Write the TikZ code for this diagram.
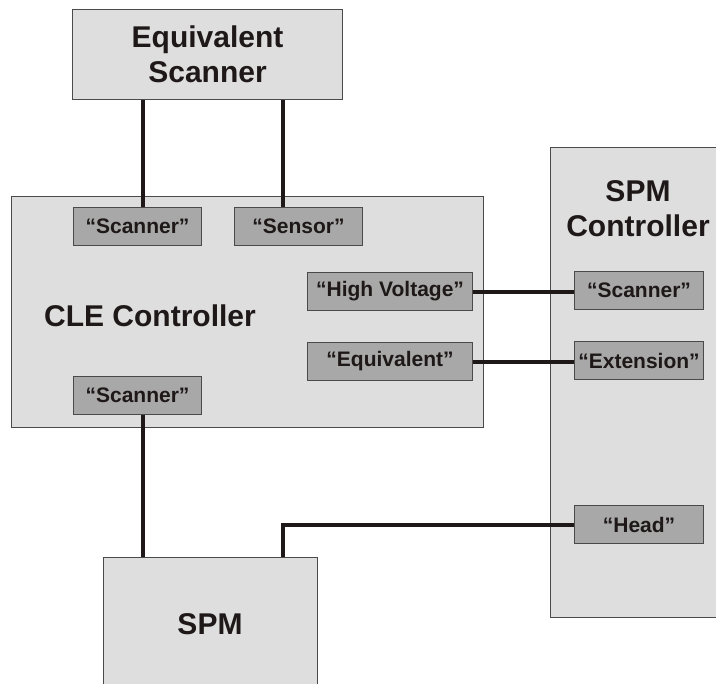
\documentclass[tikz,border=0pt]{standalone}
\usepackage{fontspec}
\setmainfont{Liberation Sans}
\definecolor{boxfill}{HTML}{DEDEDE}
\definecolor{portfill}{HTML}{A8A8A8}
\definecolor{edge}{HTML}{4A4A4A}
\definecolor{ink}{HTML}{1E1818}
\begin{document}
\begin{tikzpicture}[x=1pt,y=-1pt,
  bigbox/.style={draw=edge,line width=1.1pt,fill=boxfill,inner sep=0pt,anchor=north west,
    font=\fontsize{30}{35}\selectfont\bfseries,text=ink,align=center},
  port/.style={draw=edge,line width=1.1pt,fill=portfill,inner sep=0pt,anchor=north west,
    minimum height=38pt,font=\fontsize{21}{24}\selectfont\bfseries,text=ink},
  title/.style={font=\fontsize{30}{35}\selectfont\bfseries,text=ink,align=center,inner sep=0pt},
  wire/.style={draw=ink,line width=4pt}]
\useasboundingbox (0,0) rectangle (716,684);
\clip (0,0) rectangle (716,684);
% main boxes
\node[bigbox,minimum width=270pt,minimum height=90pt] (es) at (72,9) {Equivalent\\Scanner};
\node[bigbox,minimum width=472pt,minimum height=231pt] (cle) at (11,196) {};
\node[bigbox,minimum width=180pt,minimum height=470pt] (spmc) at (550,147) {};
\node[bigbox,minimum width=214pt,minimum height=150pt] (spm) at (103,557) {};
% titles
\node[title] (cletxt) at (150,316) {CLE Controller};
\node[title] (spmctxt) at (638,209) {SPM\\Controller};
\node[title] (spmtxt) at (210,624) {SPM};
% ports on CLE controller
\node[port,minimum width=128pt] (scA) at (73,207) {“Scanner”};
\node[port,minimum width=128pt] (sen) at (234,207) {“Sensor”};
\node[port,minimum width=165pt] (hv) at (307,272) {“High Voltage”};
\node[port,minimum width=165pt] (eq) at (307,342) {“Equivalent”};
\node[port,minimum width=128pt] (scB) at (73,376) {“Scanner”};
% ports on SPM controller
\node[port,minimum width=129pt] (scC) at (574,271) {“Scanner”};
\node[port,minimum width=129pt] (ext) at (574,341) {“Extension”};
\node[port,minimum width=129pt] (head) at (574,505) {“Head”};
% connectors
\draw[wire] ([xshift=5pt]scA.north) -- ([xshift=5pt]scA.north |- es.south);
\draw[wire] ([xshift=-16pt]sen.north) -- ([xshift=-16pt]sen.north |- es.south);
\draw[wire] (hv.east) -- (hv.east -| scC.west);
\draw[wire] (eq.east) -- (eq.east -| ext.west);
\draw[wire] ([xshift=5pt]scB.south) -- ([xshift=5pt]scB.south |- spm.north);
\draw[wire] (head.west) -| ([xshift=72pt]spm.north);
\end{tikzpicture}
\end{document}
